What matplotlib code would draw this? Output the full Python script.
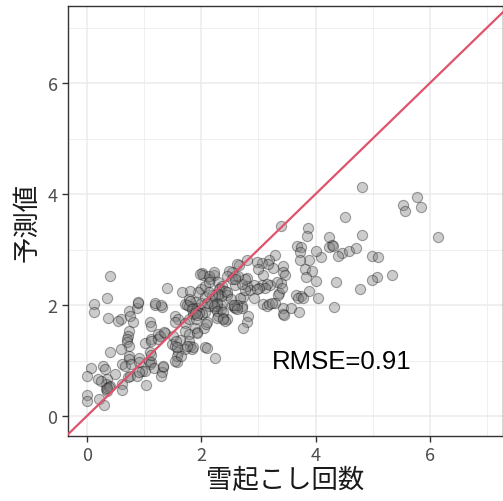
import matplotlib
matplotlib.use("Agg")
import matplotlib.pyplot as plt
from matplotlib.ticker import MultipleLocator

plt.rcParams['font.family'] = ['Noto Sans CJK JP', 'DejaVu Sans']

# observed (x) vs predicted (y)
pts = [
 (4.82,4.12),(5.77,3.95),(5.53,3.81),(5.57,3.69),(5.84,3.76),(4.51,3.58),(6.15,3.23),(4.23,3.23),
 (4.81,3.27),(4.28,3.09),(4.23,3.05),(4.30,3.07),(4.46,2.94),(4.40,2.88),(4.58,2.98),(4.70,3.03),
 (4.09,2.86),(4.00,2.98),(4.99,2.88),(5.10,2.86),(5.33,2.55),(5.08,2.51),(4.98,2.45),(4.36,2.41),
 (4.78,2.29),(4.01,2.43),(4.05,2.13),(4.33,1.96),
 (3.39,3.43),(3.87,3.38),(3.85,3.24),(3.68,3.07),(3.75,3.04),(3.72,2.95),(3.89,2.82),(3.72,2.82),
 (3.81,2.65),(3.94,2.62),(3.84,2.50),(3.88,2.25),(3.74,2.17),(3.65,2.19),(3.70,2.12),(3.78,2.13),
 (3.30,2.90),(3.19,2.82),(3.06,2.76),(3.43,2.71),(3.44,2.60),(3.46,2.55),(3.25,2.66),(3.09,2.54),
 (3.39,2.40),(3.32,2.42),(3.37,2.22),(3.35,2.19),(3.42,2.31),(3.20,2.36),(3.07,2.36),(3.16,2.38),
 (3.12,2.31),(3.01,2.31),(2.92,2.37),(2.86,2.28),(2.98,2.29),(2.92,2.13),(2.73,2.14),(2.81,2.49),
 (3.08,2.02),(3.16,1.99),(3.19,2.02),(3.29,2.04),(3.24,2.04),(3.44,1.95),(3.44,1.83),(3.57,1.95),
 (3.71,1.87),(3.45,1.82),
 (2.80,2.82),(2.67,2.73),(2.63,2.74),(2.54,2.60),(2.60,2.53),(2.60,2.37),(2.68,2.13),(2.71,1.99),
 (2.82,1.81),(2.81,1.70),(2.74,1.58),(2.57,1.96),(2.60,1.94),(2.71,1.94),(2.62,2.01),(2.54,2.01),
 (2.33,2.31),(2.32,2.19),(2.16,2.47),(2.23,2.55),
 (2.01,2.58),(2.04,2.54),(2.13,2.53),(2.22,2.59),(2.48,2.61),(2.46,2.53),(2.54,2.47),
 (2.30,2.41),(2.37,2.35),(2.32,2.29),(2.42,2.25),(2.46,2.19),(2.35,2.17),
 (2.13,1.98),(2.25,1.95),(2.28,1.99),(2.34,1.93),(2.35,2.01),(2.27,2.04),(2.19,2.04),
 (2.25,2.19),(2.30,2.20),(2.19,2.18),(2.00,2.29),(2.07,2.35),(2.13,2.41),
 (1.95,2.23),(1.89,2.05),(1.93,1.95),(1.99,2.04),(2.07,2.14),(2.13,2.23),
 (1.93,1.51),(1.89,1.59),(2.07,1.24),(2.11,1.23),(2.25,1.05),
 (2.07,1.87),(2.01,1.83),(2.39,1.77),(2.46,1.74),(2.41,1.71),(2.30,1.80),
 (2.97,2.77),(3.00,2.65),(3.17,2.74),(2.80,2.34),(2.77,2.27),(2.71,2.38),(2.77,2.47),(2.65,2.53),
 (2.60,2.47),
 (0.41,2.52),(0.36,2.12),(0.13,2.02),(0.12,1.87),(0.37,1.77),(0.59,1.74),(0.54,1.71),(0.73,1.89),
 (0.76,1.80),(0.80,1.70),(0.87,1.95),(0.90,2.04),(1.20,2.01),(1.32,1.97),(1.11,1.70),(1.40,2.30),
 (0.73,1.54),(0.72,1.45),(0.70,1.39),(0.71,1.33),(0.74,1.27),(0.59,1.20),(0.40,1.16),(0.74,1.09),
 (0.73,1.03),(0.61,0.94),(0.66,0.91),(0.78,0.93),(0.92,1.04),(0.91,0.97),(1.08,1.00),(1.11,0.93),
 (1.13,0.97),(0.96,0.82),(1.02,0.81),(1.17,0.87),(1.11,1.15),(1.13,1.10),(1.01,1.32),(1.12,1.39),
 (1.24,1.48),(1.36,1.50),(1.13,1.62),(1.33,0.89),(1.32,0.80),(1.30,0.72),(1.03,0.56),(0.72,0.70),
 (0.76,0.73),(0.88,0.72),(0.92,0.80),(0.61,0.57),(0.62,0.47),(0.49,0.76),(0.36,0.67),(0.33,0.57),
 (0.34,0.49),(0.36,0.45),(0.40,0.54),(0.38,0.52),(0.35,0.50),(0.29,0.91),(0.31,0.84),(0.20,0.67),
 (0.25,0.64),(0.07,0.86),(0.00,0.72),(0.01,0.37),(0.01,0.27),(0.22,0.31),(0.30,0.19),(1.58,0.97),
 (1.34,0.90),
 (1.54,1.81),(1.60,1.75),(1.54,1.69),(1.72,1.68),(1.78,1.75),(1.85,1.83),(1.91,1.75),(1.72,1.53),
 (1.78,1.48),(1.13,1.35),(1.25,1.39),(1.49,1.29),(1.54,1.27),(1.60,1.15),(1.57,1.09),(1.54,0.99),
 (1.78,1.36),(1.81,1.27),(1.84,1.21),(1.92,1.50),(2.05,1.59),(2.10,1.69),
 (1.72,2.02),(1.78,1.98),(1.85,1.95),(1.91,1.90),(1.96,1.86),
 (1.66,2.23),(1.80,2.25),(1.78,2.11),(1.98,2.56),(1.19,2.04),(1.30,2.00),(0.90,2.06),
 (1.75,2.01),(1.81,2.07),(1.84,1.92),(1.89,1.86),(1.92,1.82),(1.63,1.37),(1.71,1.21),(1.64,1.09),
 (2.10,2.04),(2.22,1.99),(2.28,1.90),(2.39,1.87),(2.45,2.23),(2.53,2.11),(2.57,2.01),(2.63,1.93),
 (2.08,1.66),(2.28,1.76),(2.39,1.75),
 (1.28,1.45),(1.35,1.51),(1.51,1.45),(1.56,1.35),(1.58,1.24),(1.85,1.24),(1.76,1.26),
]
obs = [p[0] for p in pts]
pred = [p[1] for p in pts]

x_ticks = [0, 2, 4, 6]
y_ticks = [0, 2, 4, 6]
x_label = "雪起こし回数"
y_label = "予測値"
rmse_text = "RMSE=0.91"

fig = plt.figure(figsize=(5.03, 5.02), dpi=100)
ax = fig.add_axes([68/503, 65/502, 435/503, 430/502])

xlim = (-0.33, 7.28)
ylim = (-0.36, 7.39)
ax.set_xlim(*xlim)
ax.set_ylim(*ylim)

ax.set_xticks(x_ticks)
ax.set_yticks(y_ticks)
ax.xaxis.set_minor_locator(MultipleLocator(1))
ax.yaxis.set_minor_locator(MultipleLocator(1))
ax.grid(which='major', color='#EBEBEB', linewidth=1.1)
ax.grid(which='minor', color='#EBEBEB', linewidth=0.55)
ax.set_axisbelow(True)
ax.tick_params(which='minor', length=0)
ax.tick_params(which='major', length=4.5, width=1.0, color='#333333',
               labelcolor='#4D4D4D', labelsize=13, pad=3)
for s in ax.spines.values():
    s.set_color('#333333')
    s.set_linewidth(1.0)

ax.scatter(obs, pred, s=54, facecolor=(0.5, 0.5, 0.5, 0.4),
           edgecolor=(0, 0, 0, 0.35), linewidth=0.8, zorder=3)

ax.axline((0, 0), slope=1, color='#DF536B', linewidth=1.6, zorder=4)

ax.text(4.46, 0.99, rmse_text, fontsize=18.5, family=['Liberation Sans', 'DejaVu Sans'],
        ha='center', va='center', color='black', zorder=5)

ax.set_xlabel(x_label, fontsize=19, color='#1A1A1A', labelpad=1)
ax.set_ylabel(y_label, fontsize=19, color='#1A1A1A', labelpad=5)

fig.savefig('out.png', dpi=100)
